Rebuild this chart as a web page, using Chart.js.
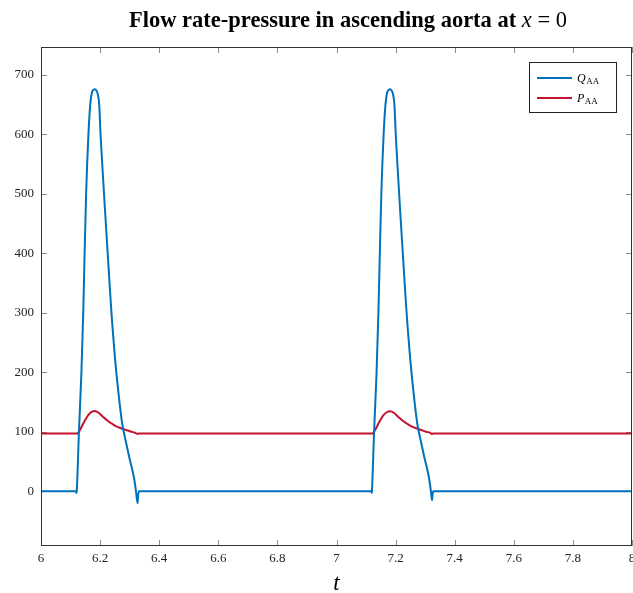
<!DOCTYPE html>
<html>
<head>
<meta charset="utf-8">
<script src="https://cdn.jsdelivr.net/npm/chart.js@4.4.0/dist/chart.umd.min.js"></script>
<style>
  html, body { margin: 0; padding: 0; background: #fff; }
</style>
</head>
<body>
<canvas id="aorta" width="633" height="593"></canvas>
<script>
// flow rate Q_AA at the aortic root, two beats
const qTime = [6, 6.118, 6.1202, 6.1210, 6.1284, 6.1368, 6.1429, 6.1476, 6.1527, 6.1605, 6.1666, 6.172, 6.1775, 6.1824,
  6.1875, 6.192, 6.197, 6.2015, 6.2105, 6.2173, 6.2243, 6.2355, 6.241, 6.25, 6.2611, 6.2747, 6.2865, 6.2983, 6.3142,
  6.321, 6.3267, 6.3285, 6.3311,
  7.118, 7.1195, 7.1200, 7.1272, 7.1356, 7.1418, 7.1466, 7.1517, 7.1595, 7.1657, 7.1712, 7.1766, 7.1814,
  7.1864, 7.1910, 7.1960, 7.2005, 7.2093, 7.2160, 7.2230, 7.2342, 7.2398, 7.2488, 7.2598, 7.2733, 7.2851, 7.2968, 7.3125,
  7.3190, 7.3233, 7.3250, 7.3275, 8];
const qFlow = [0, 0, -3, 0, 100, 200, 300, 400, 500, 600, 650, 670, 675, 676,
  674, 668, 650, 600, 523, 467, 411, 322, 282, 226, 170, 114, 85, 58, 24,
  2, -20, -8, 0,
  0, -3, 0, 100, 200, 300, 400, 500, 600, 650, 670, 675, 676,
  674, 668, 650, 600, 523, 467, 411, 322, 282, 226, 170, 114, 85, 58, 24,
  2, -15, -6, 0, 0];

// pressure P_AA
const pTime = [6, 6.122, 6.128, 6.135, 6.143, 6.152, 6.160, 6.170, 6.182, 6.195, 6.210, 6.224, 6.239, 6.255, 6.273,
  6.290, 6.306, 6.318, 6.326, 6.330,
  7.122, 7.127, 7.134, 7.142, 7.151, 7.159, 7.169, 7.181, 7.194, 7.209, 7.223, 7.238, 7.254, 7.272,
  7.289, 7.304, 7.316, 7.323, 7.327, 8];
const pPress = [97, 97, 100, 106, 114, 122, 128, 133, 135, 132, 125, 119, 114, 109, 105.5,
  102.5, 100, 98.5, 96.5, 97,
  97, 100, 106, 114, 122, 128, 132.5, 134.5, 132, 125, 119, 114, 109, 105.5,
  102.5, 100, 98.5, 96.5, 97, 97];

const xTicks = [6, 6.2, 6.4, 6.6, 6.8, 7, 7.2, 7.4, 7.6, 7.8, 8];
const yTicks = [0, 100, 200, 300, 400, 500, 600, 700];

const blue = '#0072bd';
const red = '#c4122f';
const serif = '"Liberation Serif", "DejaVu Serif", serif';

// inward tick marks on all four sides, under the curves
const innerTicks = {
  id: 'innerTicks',
  beforeDatasetsDraw(chart) {
    const { ctx, chartArea: a, scales } = chart;
    ctx.save();
    ctx.strokeStyle = '#8a8a8a';
    ctx.lineWidth = 1;
    ctx.beginPath();
    xTicks.forEach(v => {
      const px = Math.round(scales.x.getPixelForValue(v)) + 0.5;
      ctx.moveTo(px, a.top); ctx.lineTo(px, a.top + 6);
      ctx.moveTo(px, a.bottom); ctx.lineTo(px, a.bottom - 6);
    });
    yTicks.forEach(v => {
      const py = Math.round(scales.y.getPixelForValue(v)) + 0.5;
      ctx.moveTo(a.left, py); ctx.lineTo(a.left + 6, py);
      ctx.moveTo(a.right, py); ctx.lineTo(a.right - 6, py);
    });
    ctx.stroke();
    ctx.restore();
  },
  afterDatasetsDraw(chart) {
    const { ctx, chartArea: a } = chart;
    ctx.save();
    ctx.strokeStyle = '#333';
    ctx.lineWidth = 1;
    ctx.strokeRect(a.left + 0.5, a.top + 0.5, a.right - a.left - 1, a.bottom - a.top - 1);
    ctx.restore();
  }
};

// title with italic math variable
const mathTitle = {
  id: 'mathTitle',
  afterDraw(chart) {
    const ctx = chart.ctx;
    const parts = [
      { text: 'Flow rate-pressure in ascending aorta at ', font: 'bold 22.5px ' + serif },
      { text: 'x', font: 'italic 22.5px ' + serif },
      { text: ' = 0', font: '22.5px ' + serif }
    ];
    ctx.save();
    ctx.fillStyle = '#000';
    ctx.textBaseline = 'alphabetic';
    let total = 0;
    parts.forEach(p => { ctx.font = p.font; p.w = ctx.measureText(p.text).width; total += p.w; });
    let x = 348 - total / 2;
    parts.forEach(p => { ctx.font = p.font; ctx.fillText(p.text, x, 27); x += p.w; });
    ctx.restore();
  }
};

// legend box with subscripted labels
const subLegend = {
  id: 'subLegend',
  afterDraw(chart) {
    const ctx = chart.ctx;
    const box = { x: 529, y: 62, w: 87, h: 50 };
    ctx.save();
    ctx.fillStyle = '#fff';
    ctx.fillRect(box.x, box.y, box.w, box.h);
    ctx.strokeStyle = '#222';
    ctx.lineWidth = 1;
    ctx.strokeRect(box.x + 0.5, box.y + 0.5, box.w, box.h);
    chart.data.datasets.forEach((ds, i) => {
      const y = 78 + i * 20;
      ctx.strokeStyle = ds.borderColor;
      ctx.lineWidth = 2;
      ctx.beginPath();
      ctx.moveTo(537, y); ctx.lineTo(572, y);
      ctx.stroke();
      ctx.fillStyle = '#000';
      ctx.textBaseline = 'alphabetic';
      ctx.font = 'italic 12px ' + serif;
      ctx.fillText(ds.symbol, 577, y + 4);
      const w = ctx.measureText(ds.symbol).width;
      ctx.font = '9px ' + serif;
      ctx.fillText(ds.sub, 577 + w + 0.5, y + 6);
    });
    ctx.restore();
  }
};

new Chart(document.getElementById('aorta'), {
  type: 'line',
  data: {
    datasets: [
      {
        label: 'Q_AA', symbol: 'Q', sub: 'AA',
        data: qTime.map((t, i) => ({ x: t, y: qFlow[i] })),
        borderColor: blue, borderWidth: 2, pointRadius: 0,
        cubicInterpolationMode: 'monotone'
      },
      {
        label: 'P_AA', symbol: 'P', sub: 'AA',
        data: pTime.map((t, i) => ({ x: t, y: pPress[i] })),
        borderColor: red, borderWidth: 2, pointRadius: 0,
        cubicInterpolationMode: 'monotone'
      }
    ]
  },
  options: {
    responsive: false,
    animation: false,
    devicePixelRatio: 1,
    layout: { padding: { top: 47, right: 1, left: 0, bottom: 0 } },
    plugins: {
      legend: { display: false },
      title: { display: false },
      tooltip: { enabled: false }
    },
    scales: {
      x: {
        type: 'linear',
        min: 6, max: 8,
        grid: { display: false, drawTicks: false },
        border: { display: false },
        afterBuildTicks: s => { s.ticks = xTicks.map(v => ({ value: v })); },
        afterFit: s => { s.height = 47; s.paddingLeft = 0; s.paddingRight = 0; },
        ticks: { padding: 5, color: '#222', font: { family: serif, size: 13 }, maxRotation: 0,
          callback: v => String(v) },
        title: { display: true, text: 't', color: '#000', padding: 0,
          font: { family: serif, size: 23, style: 'italic', lineHeight: 0.8 } }
      },
      y: {
        type: 'linear',
        min: -92, max: 747,
        grid: { display: false, drawTicks: false },
        border: { display: false },
        afterBuildTicks: s => { s.ticks = yTicks.map(v => ({ value: v })); },
        afterFit: s => { s.width = 41; },
        ticks: { padding: 7, color: '#222', font: { family: serif, size: 13 },
          callback: v => String(v) }
      }
    }
  },
  plugins: [innerTicks, mathTitle, subLegend]
});
</script>
</body>
</html>
